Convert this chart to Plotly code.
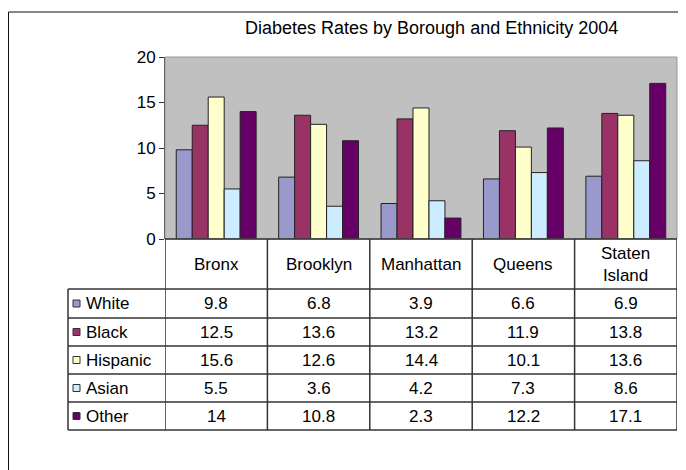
import plotly.graph_objects as go

boroughs = ["Bronx", "Brooklyn", "Manhattan", "Queens", "Staten Island"]
header_labels = ["Bronx", "Brooklyn", "Manhattan", "Queens", "Staten<br>Island"]
series_names = ["White", "Black", "Hispanic", "Asian", "Other"]
white = [9.8, 6.8, 3.9, 6.6, 6.9]
black = [12.5, 13.6, 13.2, 11.9, 13.8]
hispanic = [15.6, 12.6, 14.4, 10.1, 13.6]
asian = [5.5, 3.6, 4.2, 7.3, 8.6]
other = [14, 10.8, 2.3, 12.2, 17.1]
series_values = [white, black, hispanic, asian, other]
colors = ["#9999CC", "#993366", "#FFFFCC", "#CCECFF", "#660066"]
title_text = "Diabetes Rates by Borough and Ethnicity"
title_year = "2004"

OFF = 8  # page body margin
W, H = 686 - OFF, 470 - OFF
# screen-pixel layout
L, R, T, B = 165, 677, 57, 239
PW, PH = R - L, B - T
FONT = "Liberation Sans, Arial, sans-serif"
TXT = "#000000"


def fx(px):
    return (px - L) / PW


def fy(py):
    return (B - py) / PH


fig = go.Figure()
for name, vals, col in zip(series_names, series_values, colors):
    fig.add_trace(go.Bar(
        x=boroughs, y=vals, name=name,
        marker=dict(color=col, line=dict(color="#222222", width=1)),
        showlegend=False,
    ))

shapes = []
annotations = []
LINE = dict(color="#333333", width=1.5)

# outer frame
shapes.append(dict(type="rect", xref="paper", yref="paper",
                   x0=fx(OFF + 0.5), x1=fx(720), y0=fy(12), y1=fy(500),
                   line=dict(color="#111111", width=1), layer="below"))
# plot frame
shapes.append(dict(type="rect", xref="paper", yref="paper",
                   x0=0, x1=1, y0=0, y1=1,
                   line=dict(color="#999999", width=1)))

row_edges = [239, 289, 318, 346, 374, 402, 430]
label_left = 68

for i in range(len(boroughs) + 1):
    shapes.append(dict(type="line", xref="x", yref="paper",
                       x0=i - 0.5, x1=i - 0.5, y0=fy(row_edges[0]), y1=fy(row_edges[-1]),
                       line=LINE))
shapes.append(dict(type="line", xref="paper", yref="paper",
                   x0=fx(label_left), x1=fx(label_left),
                   y0=fy(row_edges[1]), y1=fy(row_edges[-1]), line=LINE))
shapes.append(dict(type="line", xref="x", yref="paper",
                   x0=-0.5, x1=len(boroughs) - 0.5, y0=fy(row_edges[0]), y1=fy(row_edges[0]),
                   line=LINE))
for py in row_edges[1:]:
    shapes.append(dict(type="line", xref="paper", yref="paper",
                       x0=fx(label_left), x1=1, y0=fy(py), y1=fy(py), line=LINE))

for i, lab in enumerate(header_labels):
    annotations.append(dict(x=i, xref="x", y=fy((row_edges[0] + row_edges[1]) / 2), yref="paper",
                            text=lab, showarrow=False, font=dict(family=FONT, size=17, color=TXT),
                            xanchor="center", yanchor="middle"))

for r, (name, vals, col) in enumerate(zip(series_names, series_values, colors)):
    top, bot = row_edges[r + 1], row_edges[r + 2]
    mid = (top + bot) / 2
    shapes.append(dict(type="rect", xref="paper", yref="paper",
                       x0=fx(73), x1=fx(80), y0=fy(mid + 3.5), y1=fy(mid - 3.5),
                       fillcolor=col, line=dict(color="#333333", width=1)))
    annotations.append(dict(x=fx(84), xref="paper", y=fy(mid), yref="paper",
                            text=name, showarrow=False, font=dict(family=FONT, size=17, color=TXT),
                            xanchor="left", yanchor="middle"))
    for i, v in enumerate(vals):
        annotations.append(dict(x=i, xref="x", y=fy(mid), yref="paper",
                                text=f"{v:g}", showarrow=False,
                                font=dict(family=FONT, size=17, color=TXT),
                                xanchor="center", yanchor="middle"))

annotations.append(dict(x=fx(431), xref="paper", y=fy(28), yref="paper",
                        text=title_text + " " + title_year, showarrow=False,
                        font=dict(family=FONT, size=18, color=TXT),
                        xanchor="center", yanchor="middle"))

fig.update_layout(
    width=W, height=H,
    margin=dict(l=L - OFF, r=W - (R - OFF), t=T - OFF, b=H - (B - OFF), pad=0),
    paper_bgcolor="white", plot_bgcolor="#C0C0C0",
    barmode="group", bargap=0.22, bargroupgap=0,
    shapes=shapes, annotations=annotations,
    xaxis=dict(range=[-0.5, 4.5], showticklabels=False, ticks="", showgrid=False,
               showline=False, zeroline=False, fixedrange=True),
    yaxis=dict(range=[0, 20], dtick=5, ticks="outside", ticklen=5, tickcolor="#333",
               showline=True, linecolor="#333", linewidth=1, showgrid=False, zeroline=False,
               tickfont=dict(family=FONT, size=17, color=TXT), fixedrange=True),
    font=dict(family=FONT),
)

fig.write_html("out.html")
